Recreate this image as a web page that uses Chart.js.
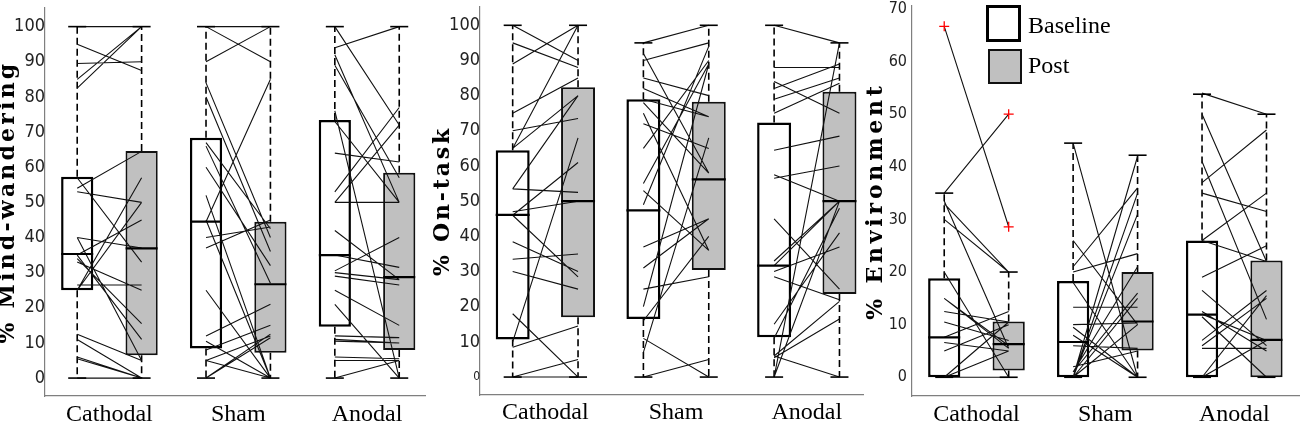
<!DOCTYPE html>
<html><head><meta charset="utf-8">
<script src="https://cdn.jsdelivr.net/npm/chart.js@4/dist/chart.umd.min.js"></script>
<style>
html,body{margin:0;padding:0;background:#fff;}
#wrap{position:relative;width:1300px;height:423px;overflow:hidden;background:#fff;}
.panel{position:absolute;top:0;}
.lgbox{position:absolute;box-sizing:border-box;}
.lgtxt{position:absolute;font-family:'Liberation Serif','Times New Roman',serif;font-size:24px;color:#000;line-height:24px;white-space:nowrap;}
</style></head><body>
<div id="wrap">
  <canvas id="c1" class="panel" style="left:0px" width="430" height="423"></canvas>
  <canvas id="c2" class="panel" style="left:430px" width="435" height="423"></canvas>
  <canvas id="c3" class="panel" style="left:865px" width="435" height="423"></canvas>
  <div class="lgbox" style="left:986px;top:5px;width:35px;height:37px;border:3px solid #000;background:#fff"></div>
  <div class="lgbox" style="left:988px;top:49px;width:34px;height:35px;border:2px solid #111;background:#c0c0c0"></div>
  <div class="lgtxt" style="left:1028px;top:13px">Baseline</div>
  <div class="lgtxt" style="left:1028px;top:53px">Post</div>
</div>
<script>
// ---------- categories / ticks ----------
const categories = ['Cathodal', 'Sham', 'Anodal'];
const groups = ['Baseline', 'Post'];
const ticksPct = [0, 10, 20, 30, 40, 50, 60, 70, 80, 90, 100];
const ticksEnv = [0, 10, 20, 30, 40, 50, 60, 70];

// ---------- % Mind-wandering: box statistics (Cathodal, Sham, Anodal) ----------
const mwBaseLo  = [0, 0, 0];
const mwBaseQ1  = [25.0, 8.4, 14.6];
const mwBaseMed = [35.3, 44.5, 35.0];
const mwBaseQ3  = [57.3, 68.4, 73.4];
const mwBaseHi  = [100, 100, 100];
const mwPostLo  = [0, 0, 0];
const mwPostQ1  = [6.5, 7.2, 8.0];
const mwPostMed = [36.9, 26.7, 28.7];
const mwPostQ3  = [64.6, 44.5, 58.4];
const mwPostHi  = [100, 100, 100];
// individual subjects (baseline -> post)
const mwCathodalBase = [100, 95, 89.5, 85, 82.5, 54, 53, 57, 40, 40, 35, 26.5, 25, 34, 35, 33, 12.5, 11, 6, 5.5, 0, 25];
const mwCathodalPost = [100, 87.5, 90, 100, 100, 64.5, 50, 33, 37, 5, 45, 26.5, 57, 15.5, 11, 25, 5, 0, 0, 0, 0, 50];
const mwShamBase = [100, 90, 100, 84, 80, 67, 66, 60, 52, 45, 40, 37, 44.5, 25, 12, 10.5, 8, 5, 5, 0, 0];
const mwShamPost = [90, 100, 100, 40, 36, 42.5, 27, 32, 0, 0, 43, 45, 85, 0, 21, 0, 15, 12, 0, 11.5, 12.5];
const mwAnodalBase = [94, 100, 92, 89, 76, 73, 64, 53, 50, 50, 42, 35, 30.5, 30, 29, 25, 21, 12, 11, 10.5, 6, 5, 0];
const mwAnodalPost = [100, 72, 50, 57, 0, 50, 61.5, 77, 50, 72, 28, 31.5, 40, 28, 26.5, 15, 0, 11.5, 10, 10, 5.5, 5, 5];

// ---------- % On-task ----------
const otBaseLo  = [0, 0, 0];
const otBaseQ1  = [10.7, 16.5, 11.3];
const otBaseMed = [46.1, 47.4, 31.7];
const otBaseQ3  = [64.5, 79.0, 72.4];
const otBaseHi  = [100, 95, 100];
const otPostLo  = [0, 0, 0];
const otPostQ1  = [17.0, 30.4, 23.6];
const otPostMed = [50, 56.2, 50];
const otPostQ3  = [82.4, 78.3, 81.1];
const otPostHi  = [100, 100, 95];
const otCathodalBase = [100, 95, 89, 75, 70, 65, 65, 53.5, 53.5, 47, 46, 38.5, 33.5, 30, 18, 10, 8.5, 0, 0, 46];
const otCathodalPost = [90, 88, 100, 85, 73.5, 80, 100, 52.5, 80, 50, 28.5, 30, 35, 25, 0, 68, 14.5, 5, 0, 61];
const otShamBase = [95, 92, 90, 85, 82, 79, 78, 75, 72, 65, 55, 53, 49, 37, 31, 25, 20, 16, 11, 7, 0];
const otShamPost = [100, 58, 95, 80, 74, 74, 58, 36, 65, 90, 89, 36, 94, 45, 45, 28.5, 89, 40, 0, 68, 5];
const otAnodalBase = [100, 88, 84, 82, 79, 75, 64.5, 56.5, 57.5, 45, 33, 31.7, 30, 28.5, 0, 15, 11, 6, 6, 5.5, 0];
const otAnodalPost = [95, 88, 75, 89, 85, 83.5, 68.5, 60, 50, 25, 50, 50, 37, 22, 95, 41, 48, 0, 21.5, 16.5, 50];

// ---------- % Environment ----------
const enBaseLo  = [0, 0, 0];
const enBaseQ1  = [0, 0, 0];
const enBaseMed = [7.6, 6.7, 11.9];
const enBaseQ3  = [18.8, 18.3, 26.0];
const enBaseHi  = [35.0, 44.5, 53.8];
const enPostLo  = [0, 0, 0];
const enPostQ1  = [1.3, 5.1, 0];
const enPostMed = [6.3, 10.6, 7.1];
const enPostQ3  = [10.6, 20.0, 22.2];
const enPostHi  = [20.0, 42.2, 50.0];
const enOutlierX = [1, 2, 2];
const enOutlierY = [66.7, 50.0, 28.6];
const enCathodalBase = [66.7, 35, 33, 33.5, 30, 20, 15, 12.5, 10.5, 7.6, 6.6, 5, 0, 0, 0, 15];
const enCathodalPost = [28.6, 50, 20, 5.5, 20, 0, 5.5, 10.5, 7, 12.5, 5, 10, 10.5, 5, 0, 6];
const enShamBase = [44.5, 26, 21, 20, 18, 13.3, 10, 9.5, 6, 0, 0, 0, 1, 0, 1, 2, 0, 8];
const enShamPost = [0, 10, 36, 23.5, 0, 13.3, 10.3, 0, 5.5, 42, 35, 31, 21, 15, 16, 5, 10, 0];
const enAnodalBase = [54, 50, 41, 37, 35, 26, 26, 19, 16.5, 12.5, 12, 11.5, 7, 6, 5.5, 0, 0];
const enAnodalPost = [50, 22, 11, 47, 31.5, 35, 22, 25, 6, 5, 7, 0, 16.5, 15, 5.5, 15.5, 7];

// ---------- helpers ----------
const GRAY = '#c0c0c0';
const AXIS = '#7f7f7f';
const tickFamily = "'DejaVu Sans Condensed','DejaVu Sans',sans-serif";
const serif = "'Liberation Serif','Times New Roman',serif";

const spacedTitle = {
  id: 'spacedTitle',
  beforeDraw(chart, args, opts) {
    const s = chart.scales.y;
    if (s && !s._spaced) {
      const orig = s.drawTitle;
      s.drawTitle = function () {
        const ctx = this.ctx;
        ctx.save();
        ctx.letterSpacing = (opts.spacing || 0) + 'px';
        orig.apply(this, arguments);
        ctx.restore();
      };
      s._spaced = true;
    }
  }
};

function noPad(s) { s.paddingTop = 0; s.paddingBottom = 0; s.paddingLeft = 0; s.paddingRight = 0; }
function boxPos(c, g) { return 2 * c + 1 + g; }

function makePanel(id, p) {
  const subjectPts = [];
  p.pairs.forEach((pr, c) => {
    pr[0].forEach((b, i) => {
      subjectPts.push({x: boxPos(c, 0), y: b});
      subjectPts.push({x: boxPos(c, 1), y: pr[1][i]});
      subjectPts.push({x: boxPos(c, 1), y: null});
    });
  });
  const whiskPts = [], capPts = [], medPts = [];
  const baseBars = [], postBars = [];
  [p.base, p.post].forEach((st, g) => {
    categories.forEach((cat, c) => {
      const x = boxPos(c, g);
      if (st.hi[c] > st.q3[c]) { whiskPts.push({x, y: st.q3[c]}, {x, y: st.hi[c]}, {x, y: null}); }
      if (st.lo[c] < st.q1[c]) { whiskPts.push({x, y: st.q1[c]}, {x, y: st.lo[c]}, {x, y: null}); }
      capPts.push({x, y: st.hi[c]}, {x, y: st.lo[c]});
      medPts.push({x, y: st.med[c]});
      (g === 0 ? baseBars : postBars).push({x, y: [st.q1[c], st.q3[c]]});
    });
  });
  const datasets = [
    {type: 'bar', label: groups[0], data: baseBars, backgroundColor: '#ffffff', borderColor: '#000',
     borderWidth: 2.5, borderSkipped: false, grouped: false, barPercentage: p.barPct, categoryPercentage: 1, order: 6},
    {type: 'bar', label: groups[1], data: postBars, backgroundColor: GRAY, borderColor: '#111',
     borderWidth: 2, borderSkipped: false, grouped: false, barPercentage: p.barPct, categoryPercentage: 1, order: 5},
    {type: 'line', label: 'whiskers', data: whiskPts, borderColor: '#000', borderWidth: 1.6, borderDash: [7, 4],
     pointRadius: 0, spanGaps: false, tension: 0, order: 4},
    {type: 'line', label: 'subjects', data: subjectPts, borderColor: '#111', borderWidth: 1.1,
     pointRadius: 0, spanGaps: false, tension: 0, order: 3},
    {type: 'scatter', label: 'caps', data: capPts, pointStyle: 'line', pointRadius: 9, borderColor: '#000',
     borderWidth: 1.6, order: 2},
    {type: 'scatter', label: 'medians', data: medPts, pointStyle: 'line', pointRadius: p.medR, borderColor: '#000',
     borderWidth: 2.2, order: 2}
  ];
  if (p.outliers) {
    datasets.push({type: 'scatter', label: 'outliers', data: p.outliers, pointStyle: 'cross', pointRadius: 5,
      borderColor: '#ff0000', borderWidth: 1.3, order: 1});
  }
  return new Chart(document.getElementById(id), {
    type: 'line',
    data: {datasets},
    plugins: [spacedTitle],
    options: {
      responsive: false, animation: false, events: [],
      layout: {autoPadding: false, padding: {top: p.top, right: p.right, left: 0, bottom: 0}},
      plugins: {legend: {display: false}, tooltip: {enabled: false}, spacedTitle: {spacing: p.spacing}},
      scales: {
        x: {
          type: 'linear', min: 0.5, max: p.xMax, offset: false,
          grid: {display: false, drawTicks: false}, border: {display: true, color: AXIS, width: 1.2},
          afterBuildTicks: s => { s.ticks = categories.map((c, i) => ({value: 2 * i + 1.5})); },
          afterFit: s => { s.height = p.xH; noPad(s); },
          ticks: {autoSkip: false, maxRotation: 0, padding: p.xPad, color: '#000',
                  font: {family: serif, size: 24}, callback: (v, i) => categories[i]}
        },
        y: {
          type: 'linear', min: p.yMin, max: p.yMax,
          grid: {display: false, drawTicks: false}, border: {display: true, color: AXIS, width: 1.2},
          afterBuildTicks: s => { s.ticks = p.ticks.map(v => ({value: v})); },
          afterFit: s => { s.width = p.yW; noPad(s); },
          ticks: {padding: p.yPad, color: '#222', autoSkip: false,
                  font: ctx => ({family: tickFamily, size: (p.smallZero && ctx.tick && ctx.tick.value === 0) ? 12 : p.tickSize}),
                  callback: v => String(v)},
          title: {display: true, text: p.title, color: '#000', padding: {top: p.titlePad, bottom: 0},
                  font: {family: "'DejaVu Serif',serif", weight: 'bold', size: 22, lineHeight: 1}}
        }
      }
    }
  });
}

makePanel('c1', {
  title: '% Mind-wandering', ticks: ticksPct, yMin: -5.1, yMax: 105.3, top: 8, right: 5, xMax: 6.4, yW: 45, xH: 27,
  xPad: 4, yPad: 0, tickSize: 18, barPct: 0.5, medR: 16, titlePad: -3, spacing: 3.2,
  base: {lo: mwBaseLo, q1: mwBaseQ1, med: mwBaseMed, q3: mwBaseQ3, hi: mwBaseHi},
  post: {lo: mwPostLo, q1: mwPostQ1, med: mwPostMed, q3: mwPostQ3, hi: mwPostHi},
  pairs: [[mwCathodalBase, mwCathodalPost], [mwShamBase, mwShamPost], [mwAnodalBase, mwAnodalPost]]
});
makePanel('c2', {
  title: '% On-task', ticks: ticksPct, yMin: -5.1, yMax: 105.2, top: 7, right: 2, xMax: 6.36, yW: 50, xH: 28,
  xPad: 3, yPad: 0, tickSize: 18, smallZero: true, barPct: 0.52, medR: 17, titlePad: 2, spacing: 2.8,
  base: {lo: otBaseLo, q1: otBaseQ1, med: otBaseMed, q3: otBaseQ3, hi: otBaseHi},
  post: {lo: otPostLo, q1: otPostQ1, med: otPostMed, q3: otPostQ3, hi: otPostHi},
  pairs: [[otCathodalBase, otCathodalPost], [otShamBase, otShamPost], [otAnodalBase, otAnodalPost]]
});
makePanel('c3', {
  title: '% Environment', ticks: ticksEnv, yMin: -3.56, yMax: 70.56, top: 6, right: 0, xMax: 6.52, yW: 47, xH: 27,
  xPad: 4, yPad: 5, tickSize: 16, barPct: 0.5, medR: 16, titlePad: 0, spacing: 3.8,
  base: {lo: enBaseLo, q1: enBaseQ1, med: enBaseMed, q3: enBaseQ3, hi: enBaseHi},
  post: {lo: enPostLo, q1: enPostQ1, med: enPostMed, q3: enPostQ3, hi: enPostHi},
  pairs: [[enCathodalBase, enCathodalPost], [enShamBase, enShamPost], [enAnodalBase, enAnodalPost]],
  outliers: enOutlierX.map((x, i) => ({x, y: enOutlierY[i]}))
});
</script>
</body></html>
